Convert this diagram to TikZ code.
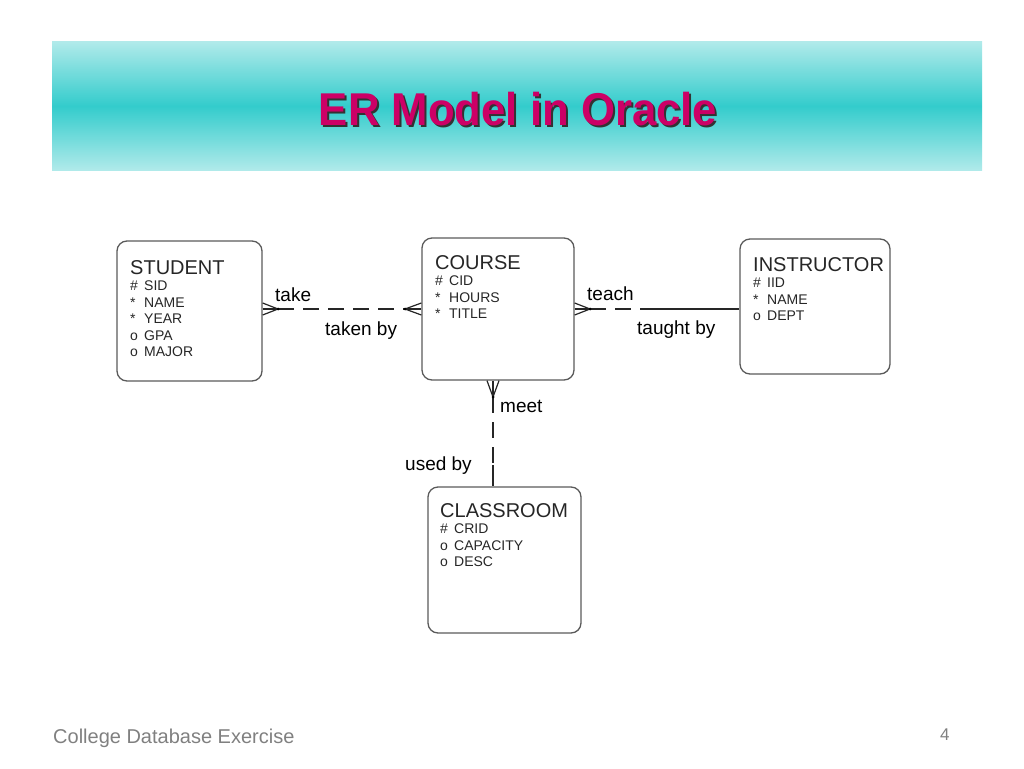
\documentclass[tikz,border=0pt]{standalone}
\usepackage{fontspec}
\setmainfont{Liberation Sans}
\usepackage{tikz}
\usetikzlibrary{calc}
\tikzset{>=latex}
\definecolor{bandlight}{RGB}{176, 234, 234}
\definecolor{bandmid}{RGB}{51, 204, 204}
\definecolor{titlepink}{RGB}{204, 0, 102}
\definecolor{footgray}{RGB}{128, 128, 128}
\definecolor{boxgray}{RGB}{90, 90, 90}
\newcommand{\entname}[1]{{\fontsize{20}{16.5}\selectfont #1}}
\newcommand{\attr}[2]{\makebox[14pt][l]{#1}#2}

\begin{document}
\begin{tikzpicture}[x=1pt, y=-1pt,
  entity/.style={draw=boxgray, line width=1.3pt, rounded corners=10pt},
  enttext/.style={anchor=north west, inner sep=0pt, align=left, text=black!85, font=\fontsize{14}{16.5}\selectfont},
  rel/.style={line width=1.2pt, draw=black!85},
  opt/.style={rel, dash pattern=on 16pt off 9pt},
  rellabel/.style={anchor=base west, inner sep=0pt, font=\fontsize{19}{22}\selectfont}]
\useasboundingbox (0,0) rectangle (1024,768);
% title band
\shade[top color=bandlight, bottom color=bandlight, middle color=bandmid] (52,42) rectangle (982,170);
\node[anchor=base, inner sep=0pt, text=black!80, font=\fontsize{46}{50}\selectfont\bfseries] (titleshadow) at (520,127) {\scalebox{0.95}[1]{ER Model in Oracle}};
\node[anchor=base, inner sep=0pt, text=titlepink, font=\fontsize{46}{50}\selectfont\bfseries] (title) at (518,125) {\scalebox{0.95}[1]{ER Model in Oracle}};
% entities
\node[entity, minimum width=145pt, minimum height=140pt] (student) at (189.5,311) {};
\node[entity, minimum width=152pt, minimum height=142pt] (course) at (498,309) {};
\node[entity, minimum width=150pt, minimum height=135pt] (instructor) at (815,306.5) {};
\node[entity, minimum width=153pt, minimum height=146pt] (classroom) at (504.5,560) {};
\node[enttext] (studenttxt) at (130,260) {\entname{STUDENT}\\ \attr{\#}{SID}\\ \attr{*}{NAME}\\ \attr{*}{YEAR}\\ \attr{o}{GPA}\\ \attr{o}{MAJOR}};
\node[enttext] (coursetxt) at (435,255) {\entname{COURSE}\\ \attr{\#}{CID}\\ \attr{*}{HOURS}\\ \attr{*}{TITLE}};
\node[enttext] (instructortxt) at (753,257) {\entname{INSTRUCTOR}\\ \attr{\#}{IID}\\ \attr{*}{NAME}\\ \attr{o}{DEPT}};
\node[enttext] (classroomtxt) at (440,503) {\entname{CLASSROOM}\\ \attr{\#}{CRID}\\ \attr{o}{CAPACITY}\\ \attr{o}{DESC}};
% take / taken by
\coordinate (sc1) at (278,309);
\coordinate (sc2) at (405,309);
\draw[rel] ([yshift=6]student.east |- sc1) -- (sc1) -- ([yshift=-6]student.east |- sc1);
\draw[rel] (student.east |- sc1) -- (sc1);
\draw[opt] (sc1) -- (sc2);
\draw[rel] ([yshift=6]course.west |- sc2) -- (sc2) -- ([yshift=-6]course.west |- sc2);
\draw[rel] (sc2) -- (course.west |- sc2);
\fill (sc1) circle [radius = 1.5];
\fill (sc2) circle [radius = 1.5];
% teach / taught by
\coordinate (ci1) at (590,309);
\coordinate (ci2) at (642,309);
\draw[rel] ([yshift=6]course.east |- ci1) -- (ci1) -- ([yshift=-6]course.east |- ci1);
\draw[rel] (course.east |- ci1) -- (ci1);
\draw[opt] (ci1) -- (ci2);
\draw[rel] (ci2) -- (instructor.west |- ci2);
\fill (ci1) circle [radius = 1.5];
% meet / used by
\coordinate (cr1) at (493,397);
\coordinate (cr2) at (493,465);
\draw[rel] ([xshift=-6]course.south -| cr1) -- (cr1) -- ([xshift=6]course.south -| cr1);
\draw[rel] (course.south -| cr1) -- (cr1);
\draw[opt] (cr1) -- (cr2);
\draw[rel] (cr2) -- (classroom.north -| cr2);
\fill (cr1) circle [radius = 1.5];
\node[rellabel] (take) at (275,301) {take};
\node[rellabel] (takenby) at (325,335) {taken by};
\node[rellabel] (teach) at (587,300) {teach};
\node[rellabel] (taughtby) at (637,334) {taught by};
\node[rellabel] (meet) at (500,412) {meet};
\node[rellabel] (usedby) at (405,470) {used by};
% footer
\node[anchor=base west, inner sep=0pt, text=footgray, font=\fontsize{20}{24}\selectfont] (footer) at (53,743) {College Database Exercise};
\node[anchor=base west, inner sep=0pt, text=footgray, font=\fontsize{17}{20}\selectfont] (pageno) at (940,740) {4};
\end{tikzpicture}
\end{document}
